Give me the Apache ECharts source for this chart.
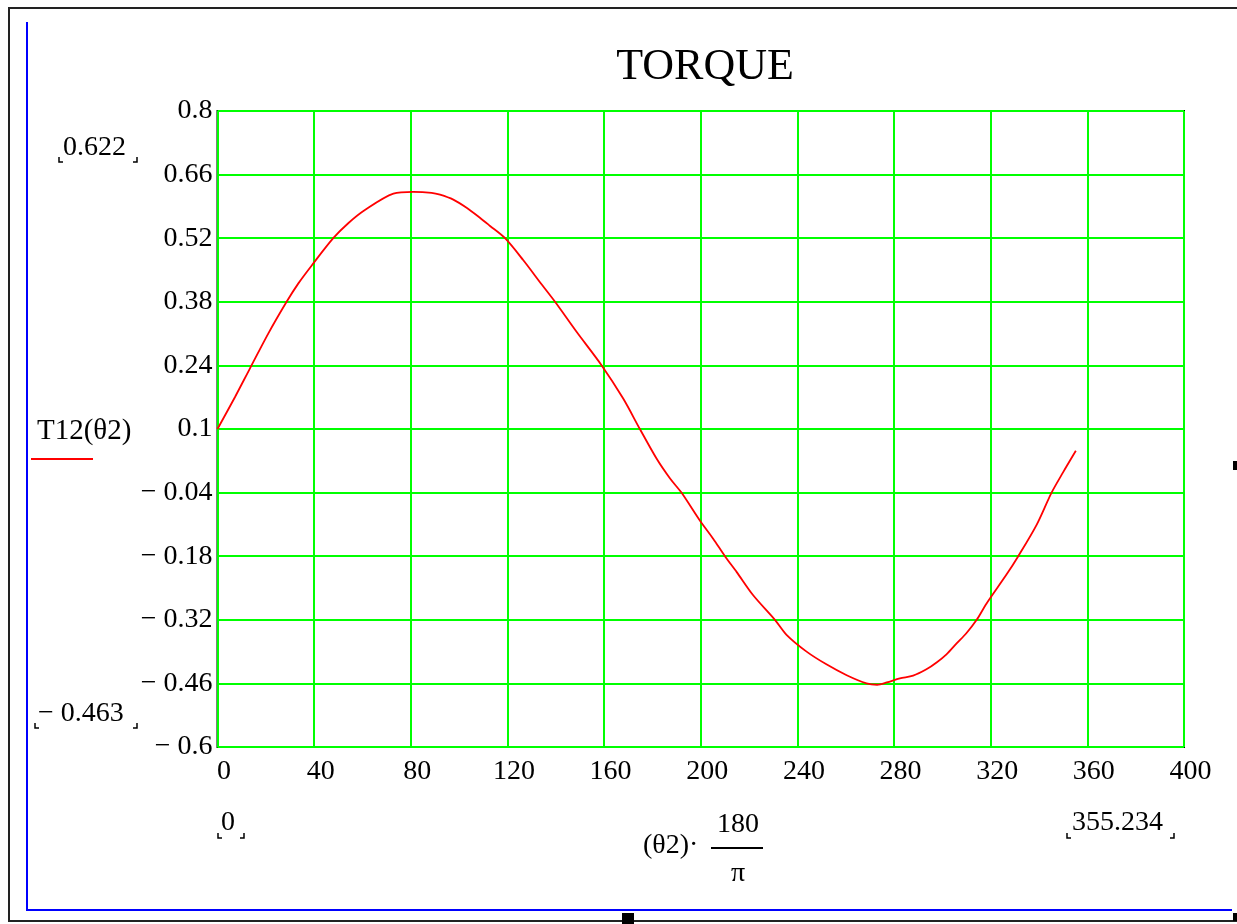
<!DOCTYPE html>
<html>
<head>
<meta charset="utf-8">
<script src="https://cdn.jsdelivr.net/npm/echarts@6/dist/echarts.min.js"></script>
<style>
html,body{margin:0;padding:0;background:#fff;}
#chart{width:1237px;height:924px;}
</style>
</head>
<body>
<div id="chart"></div>
<script>
// ---- data ----
const thetaDeg = [0, 7.2, 13.4, 21, 28.6, 33.4, 39, 47.9, 54.1, 61, 72.8, 81, 88.6, 92.1, 97.6, 103.1, 108.6, 112.8, 119, 126.5, 134.2, 139.7, 148.6, 159, 167.9, 174.8, 181.7, 187.3, 192, 199.7, 205.2, 210, 214.9, 221.7, 230.7, 235.5, 243.8, 252, 260.4, 268.6, 273, 277, 282.4, 287.9, 293.4, 297.6, 301.7, 305.9, 310, 314.2, 318.3, 326.6, 331.4, 339, 345.2, 350, 355.234];
const torque   = [0.100, 0.170, 0.233, 0.310, 0.380, 0.420, 0.460, 0.520, 0.553, 0.582, 0.618, 0.622, 0.620, 0.616, 0.605, 0.587, 0.565, 0.547, 0.520, 0.472, 0.418, 0.380, 0.314, 0.240, 0.167, 0.100, 0.035, -0.009, -0.040, -0.102, -0.142, -0.180, -0.215, -0.266, -0.320, -0.353, -0.390, -0.418, -0.442, -0.460, -0.463, -0.458, -0.449, -0.443, -0.429, -0.414, -0.396, -0.372, -0.349, -0.320, -0.284, -0.220, -0.180, -0.111, -0.040, 0.005, 0.052];
const xTickLabels = ['0','40','80','120','160','200','240','280','320','360','400'];
const yTickLabels = ['\u2212 0.6','\u2212 0.46','\u2212 0.32','\u2212 0.18','\u2212 0.04','0.1','0.24','0.38','0.52','0.66','0.8'];
const yTickValues = [-0.6,-0.46,-0.32,-0.18,-0.04,0.1,0.24,0.38,0.52,0.66,0.8];
const yMarkTop = '0.622', yMarkBottom = '\u2212 0.463';
const xMarkLeft = '0', xMarkRight = '355.234';
const titleText = 'TORQUE';
const seriesName = 'T12(\u03B82)';

const FONT = '"Liberation Serif", "Times New Roman", serif';
const chart = echarts.init(document.getElementById('chart'));

function yLabel(v){
  let best = 0, bd = 1e9;
  yTickValues.forEach((t,i)=>{ const d=Math.abs(t-v); if(d<bd){bd=d;best=i;} });
  return bd < 1e-6 ? yTickLabels[best] : '';
}
function xLabel(v){
  const i = Math.round(v/40);
  return xTickLabels[i] !== undefined ? xTickLabels[i] : '';
}
function bracketL(x,y){ return {type:'polyline', shape:{points:[[x,y-5],[x,y],[x+4,y]]}, style:{stroke:'#000', lineWidth:1.5, fill:null}}; }
function bracketR(x,y){ return {type:'polyline', shape:{points:[[x-4,y],[x,y],[x,y-5]]}, style:{stroke:'#000', lineWidth:1.5, fill:null}}; }
function txt(t,x,y,align,size){
  return {type:'text', x:x, y:y, style:{text:t, align:align, verticalAlign:'middle', textAlign:align, textVerticalAlign:'middle', fill:'#000', font: size+'px '+FONT}};
}

const option = {
  backgroundColor:'#fff',
  animation:false,
  title:{ text:titleText, left:700, top:40, textAlign:'center',
    textStyle:{ fontFamily:FONT, fontSize:44, fontWeight:'normal', color:'#000' } },
  grid:{ left:217.5, top:111, right:53, bottom:177, show:true, borderColor:'#000', borderWidth:2, backgroundColor:'transparent', containLabel:false },
  xAxis:{ type:'value', min:0, max:400, interval:40,
    axisLine:{show:false}, axisTick:{show:false},
    splitLine:{ show:true, lineStyle:{color:'#00ff00', width:2} },
    axisLabel:{ show:true, margin:11, color:'#000', fontFamily:FONT, fontSize:28, padding:[0,0,0,13], formatter:xLabel, showMinLabel:true, showMaxLabel:true } },
  yAxis:{ type:'value', min:-0.6, max:0.8, interval:0.14,
    axisLine:{show:false}, axisTick:{show:false},
    splitLine:{ show:true, lineStyle:{color:'#00ff00', width:2} },
    axisLabel:{ show:true, margin:5, color:'#000', fontFamily:FONT, fontSize:28, formatter:yLabel, showMinLabel:true, showMaxLabel:true } },
  series:[{ type:'line', name:seriesName, data: thetaDeg.map((t,i)=>[t, torque[i]]),
    smooth:0.3, showSymbol:false, symbol:'none', lineStyle:{color:'#ff0000', width:1.8}, z:5 }],
  graphic:[
    // outer frame
    {type:'polyline', shape:{points:[[1237,8],[9,8],[9,921],[1237,921]]}, style:{stroke:'#222', lineWidth:2, fill:null}},
    // blue region
    {type:'polyline', shape:{points:[[27,22],[27,910],[1232,910]]}, style:{stroke:'#0000ff', lineWidth:2, fill:null}},
    // handles
    {type:'rect', shape:{x:622, y:913, width:12, height:11}, style:{fill:'#000'}},
    {type:'rect', shape:{x:1233, y:461, width:4, height:9}, style:{fill:'#000'}},
    {type:'rect', shape:{x:1233, y:913, width:4, height:8}, style:{fill:'#000'}},
    // y markers
    txt(yMarkTop, 63, 148, 'left', 28), bracketL(59,162), bracketR(137,162),
    txt(yMarkBottom, 38, 714, 'left', 28), bracketL(35,728), bracketR(137,728),
    // series label
    txt(seriesName, 37, 431, 'left', 29),
    {type:'line', shape:{x1:31, y1:459, x2:93, y2:459}, style:{stroke:'#ff0000', lineWidth:2}},
    // x markers
    txt(xMarkLeft, 221, 823, 'left', 28), bracketL(218,838), bracketR(244,838),
    txt(xMarkRight, 1072, 823, 'left', 28), bracketL(1067,838), bracketR(1174,838),
    // x axis expression
    txt('(\u03B82)\u00B7', 643, 846, 'left', 28),
    txt('180', 738, 825, 'center', 28),
    {type:'line', shape:{x1:711, y1:848, x2:763, y2:848}, style:{stroke:'#000', lineWidth:2}},
    txt('\u03C0', 738, 874, 'center', 28)
  ]
};
chart.setOption(option);
</script>
</body>
</html>
